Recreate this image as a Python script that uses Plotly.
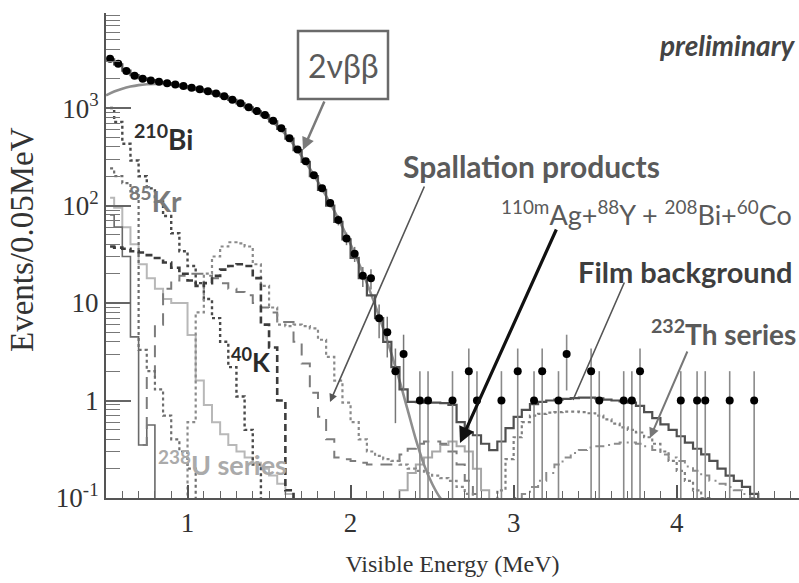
import plotly.graph_objects as go
import math

# ---------------- data ----------------
data_e = [0.525, 0.575, 0.625, 0.675, 0.725, 0.775, 0.825, 0.875, 0.925, 0.975,
          1.025, 1.075, 1.125, 1.175, 1.225, 1.275, 1.325, 1.375, 1.425, 1.475,
          1.525, 1.575, 1.625, 1.675, 1.725, 1.775, 1.825, 1.875, 1.925, 1.975,
          2.025, 2.075, 2.125, 2.175, 2.225, 2.275, 2.325]
data_v = [3200, 2850, 2400, 2150, 2000, 1920, 1860, 1800, 1740, 1680,
          1620, 1560, 1490, 1410, 1320, 1220, 1120, 1020, 930, 850,
          740, 620, 490, 375, 285, 205, 150, 106, 71, 46,
          32, 19, 18, 7, 5, 2, 3]

sparse_e = [2.425, 2.475, 2.625, 2.725, 2.775, 2.925, 3.025, 3.125, 3.175, 3.275, 3.325,
            3.475, 3.525, 3.675, 3.725, 3.775, 4.025, 4.125, 4.175, 4.325, 4.475]
sparse_v = [1, 1, 1, 2, 1, 1, 2, 1, 2, 1, 3, 2, 1, 1, 1, 2, 1, 1, 1, 1, 1]

total_e = [0.525, 0.575, 0.625, 0.675, 0.725, 0.775, 0.825, 0.875, 0.925, 0.975,
           1.025, 1.075, 1.125, 1.175, 1.225, 1.275, 1.325, 1.375, 1.425, 1.475,
           1.525, 1.575, 1.625, 1.675, 1.725, 1.775, 1.825, 1.875, 1.925, 1.975,
           2.025, 2.075, 2.125, 2.175, 2.225, 2.275, 2.325, 2.375, 2.425, 2.475,
           2.525, 2.575, 2.625, 2.675, 2.725, 2.775, 2.825, 2.875, 2.925, 2.975,
           3.025, 3.075, 3.125, 3.175, 3.225, 3.275, 3.325, 3.375, 3.425, 3.475,
           3.525, 3.575, 3.625, 3.675, 3.725, 3.775, 3.825, 3.875, 3.925, 3.975,
           4.025, 4.075, 4.125, 4.175, 4.225, 4.275, 4.325, 4.375, 4.425, 4.475, 4.525]
total_v = [3150, 2800, 2420, 2180, 2020, 1930, 1860, 1800, 1740, 1680,
           1620, 1555, 1485, 1405, 1315, 1215, 1115, 1015, 925, 840,
           730, 610, 485, 370, 280, 200, 145, 100, 68, 45,
           29, 18, 12, 7, 4, 2.2, 1.3, 0.97, 0.96, 0.95,
           0.95, 0.94, 0.9, 0.6, 0.47, 0.44, 0.36, 0.31, 0.38, 0.52,
           0.68, 0.8, 0.92, 0.97, 1.0, 1.02, 1.04, 1.06, 1.07, 1.07,
           1.05, 1.02, 1.0, 0.98, 0.95, 0.88, 0.76, 0.66, 0.57, 0.5,
           0.43, 0.37, 0.32, 0.28, 0.24, 0.2, 0.17, 0.15, 0.13, 0.11, 0.09]

dbb_e = [0.5, 0.55, 0.6, 0.65, 0.7, 0.75, 0.8, 0.85, 0.9, 1.0, 1.1, 1.2, 1.3, 1.4,
         1.5, 1.6, 1.7, 1.8, 1.9, 2.0, 2.1, 2.2, 2.3, 2.35, 2.4, 2.45, 2.5, 2.55, 2.6]
dbb_v = [1350, 1480, 1580, 1660, 1720, 1755, 1770, 1765, 1740, 1600, 1480, 1330, 1150, 950,
         770, 540, 320, 175, 88, 40, 16, 5.5, 1.6, 0.8, 0.4, 0.22, 0.14, 0.1, 0.08]

bi210_e = [0.525, 0.575, 0.625, 0.675, 0.725, 0.775, 0.825, 0.875, 0.925, 0.975,
           1.025, 1.075, 1.125, 1.175, 1.225, 1.275, 1.325, 1.375, 1.425, 1.475]
bi210_v = [1000, 720, 430, 290, 200, 150, 110, 78, 52, 34,
           24, 16, 11, 7, 4, 2.2, 1.1, 0.5, 0.22, 0.08]

kr85_e = [0.525, 0.575, 0.625, 0.675, 0.725, 0.775, 0.825, 0.875, 0.925, 0.975, 1.025, 1.075]
kr85_v = [240, 200, 170, 140, 3.3, 2.0, 1.3, 0.7, 0.4, 0.3, 0.2, 0.08]

k40_e = [0.525, 0.575, 0.625, 0.675, 0.725, 0.775, 0.825, 0.875, 0.925, 0.975,
         1.025, 1.075, 1.125, 1.175, 1.225, 1.275, 1.325, 1.375, 1.425, 1.475,
         1.525, 1.575, 1.625, 1.675]
k40_v = [38, 37, 36, 34, 33, 31, 29, 26, 23, 20,
         17, 15, 16, 19, 22, 24, 25, 24, 18, 6,
         3.5, 1.0, 0.12, 0.05]

c11_e = [0.975, 1.025, 1.075, 1.125, 1.175, 1.225, 1.275, 1.325, 1.375, 1.425,
         1.475, 1.525, 1.575, 1.625, 1.675, 1.725, 1.775, 1.825, 1.875, 1.925,
         1.975, 2.025, 2.075, 2.125, 2.175, 2.225, 2.275, 2.325, 2.375, 2.425,
         2.475, 2.525, 2.575, 2.625, 2.675, 2.725, 2.775]
c11_v = [0.05, 0.6, 8, 20, 30, 38, 42, 41, 38, 25,
         15, 9, 6, 5.8, 6, 5.8, 5.5, 4.2, 2.8, 1.6,
         0.95, 0.6, 0.4, 0.3, 0.27, 0.25, 0.24, 0.22, 0.2, 0.19,
         0.18, 0.17, 0.16, 0.15, 0.13, 0.11, 0.08]

spall_e = [0.725, 0.775, 0.825, 0.875, 0.925, 0.975, 1.025, 1.075, 1.125, 1.175,
           1.225, 1.275, 1.325, 1.375, 1.425, 1.475, 1.525, 1.575, 1.625, 1.675,
           1.725, 1.775, 1.825, 1.875, 1.925, 1.975, 2.025, 2.075, 2.125, 2.175,
           2.225, 2.275, 2.325, 2.375, 2.425, 2.475, 2.525, 2.575, 2.625, 2.675,
           2.725, 2.775, 2.825]
spall_v = [0.35, 1.7, 6, 14, 17, 19, 20, 20, 19, 18,
           16, 14, 13, 12, 10, 9, 8, 6.4, 6.4, 4,
           2.4, 1.2, 0.68, 0.4, 0.26, 0.25, 0.24, 0.23, 0.22, 0.22,
           0.22, 0.24, 0.28, 0.32, 0.36, 0.38, 0.38, 0.36, 0.3, 0.22,
           0.15, 0.11, 0.08]

u238_e = [0.525, 0.575, 0.625, 0.675, 0.725, 0.775, 0.825, 0.875, 0.925, 0.975,
          1.025, 1.075, 1.125, 1.175, 1.225, 1.275, 1.325, 1.375, 1.425, 1.475,
          1.525, 1.575, 1.625, 1.675]
u238_v = [120, 95, 60, 40, 25, 18, 14, 11, 10, 10,
          4.7, 1.6, 0.9, 0.6, 0.45, 0.35, 0.3, 0.26, 0.23, 0.2,
          0.17, 0.14, 0.11, 0.08]

misc_e = [0.525, 0.575, 0.625, 0.675, 0.725, 0.775, 0.825]
misc_v = [80, 60, 30, 4.5, 0.35, 0.56, 0.05]

ag_e = [2.275, 2.325, 2.375, 2.425, 2.475, 2.525, 2.575, 2.625, 2.675, 2.725, 2.775, 2.825, 2.875]
ag_v = [0.05, 0.12, 0.18, 0.22, 0.26, 0.3, 0.35, 0.38, 0.34, 0.3, 0.2, 0.12, 0.08]

film_e = [2.875, 2.925, 2.975, 3.025, 3.075, 3.125, 3.175, 3.225, 3.275, 3.325,
          3.375, 3.425, 3.475, 3.525, 3.575, 3.625, 3.675, 3.725, 3.775, 3.825,
          3.875, 3.925, 3.975, 4.025, 4.075, 4.125, 4.175, 4.225]
film_v = [0.06, 0.12, 0.25, 0.42, 0.6, 0.7, 0.73, 0.75, 0.76, 0.77,
          0.77, 0.76, 0.74, 0.7, 0.64, 0.58, 0.53, 0.5, 0.47, 0.42,
          0.36, 0.3, 0.24, 0.19, 0.15, 0.12, 0.1, 0.08]

th_e = [2.975, 3.025, 3.075, 3.125, 3.175, 3.225, 3.275, 3.325, 3.375, 3.425,
        3.475, 3.525, 3.575, 3.625, 3.675, 3.725, 3.775, 3.825, 3.875, 3.925,
        3.975, 4.025, 4.075, 4.125, 4.175, 4.225, 4.275, 4.325, 4.375, 4.425,
        4.475, 4.525]
th_v = [0.08, 0.1, 0.11, 0.13, 0.15, 0.18, 0.22, 0.26, 0.29, 0.31,
        0.33, 0.34, 0.35, 0.36, 0.37, 0.37, 0.36, 0.34, 0.31, 0.28,
        0.26, 0.24, 0.21, 0.19, 0.17, 0.15, 0.14, 0.13, 0.12, 0.11,
        0.1, 0.09]

y_tickvals = [0.1, 1, 10, 100, 1000]
y_ticktext = ["10<sup>-1</sup>", "1", "10", "10<sup>2</sup>", "10<sup>3</sup>"]
x_tickvals = [1, 2, 3, 4]

# ---------------- figure ----------------
L, T, B, W, H = 106, 13, 498, 693, 485
def px(x):
    return (x - L) / W
def py(y):
    return (B - y) / H

fig = go.Figure()

def comp(e, v, color, dash, width, shape="hvh"):
    fig.add_trace(go.Scatter(x=e, y=v, mode="lines", line=dict(color=color, dash=dash, width=width, shape=shape),
                             hoverinfo="skip", showlegend=False))

comp(u238_e, u238_v, "#b8b8b8", "solid", 2)
comp(misc_e, misc_v, "#6a6a6a", "solid", 1.6)
comp(ag_e, ag_v, "#a8a8a8", "solid", 2)
comp(spall_e, spall_v, "#7c7c7c", "12px,8px", 2)
comp(kr85_e, kr85_v, "#6e6e6e", "dot", 2.2)
comp(bi210_e, bi210_v, "#4a4a4a", "dot", 2.4)
comp(c11_e, c11_v, "#8a8a8a", "dot", 2.2)
comp(k40_e, k40_v, "#3c3c3c", "7px,4px", 2.6)
comp(film_e, film_v, "#808080", "dot", 2.2)
comp(th_e, th_v, "#8c8c8c", "9px,5px,2px,5px", 2)
comp(dbb_e, dbb_v, "#8e8e8e", "solid", 2.6, "spline")
comp(total_e, total_v, "#505050", "solid", 2.2)

# error bars
dense_err = [math.sqrt(v) for v in data_v]
sp_up = [math.sqrt(v) for v in sparse_v]
sp_dn = [v * 0.97 if v < 3 else math.sqrt(v) for v in sparse_v]

fig.add_trace(go.Scatter(x=data_e, y=data_v, mode="markers",
                         marker=dict(color="black", size=8),
                         error_y=dict(type="data", array=dense_err, color="#777", thickness=1.5, width=0),
                         showlegend=False, hoverinfo="skip"))
fig.add_trace(go.Scatter(x=sparse_e, y=sparse_v, mode="markers",
                         marker=dict(color="black", size=8),
                         error_y=dict(type="data", symmetric=False, array=sp_up, arrayminus=sp_dn,
                                      color="#8a8a8a", thickness=1.6, width=0),
                         showlegend=False, hoverinfo="skip"))

minor_y = []
for d in [0.1, 1, 10, 100, 1000]:
    for k in range(2, 10):
        minor_y.append(d * k)

serif = "Liberation Serif"
sans = "Lato"

fig.update_layout(
    width=799, height=583,
    margin=dict(l=L, r=799 - L - W, t=T, b=583 - B),
    paper_bgcolor="white", plot_bgcolor="white",
    showlegend=False,
    xaxis=dict(range=[0.5, 4.75], showgrid=False, zeroline=False,
               showline=True, linecolor="#555", linewidth=2,
               ticks="inside", ticklen=13, tickwidth=1.5, tickcolor="#555",
               tickvals=x_tickvals, ticktext=[str(v) for v in x_tickvals],
               tickfont=dict(family=serif, size=27, color="#333"),
               minor=dict(ticks="inside", ticklen=7, tickwidth=1.3, tickcolor="#666", dtick=0.1, tick0=0.5),
               title=dict(text="Visible Energy (MeV)", font=dict(family=serif, size=24, color="#333"), standoff=18)),
    yaxis=dict(type="log", range=[-1, 3.975], showgrid=False, zeroline=False,
               showline=True, linecolor="#555", linewidth=2,
               ticks="inside", ticklen=25, tickwidth=1.5, tickcolor="#666",
               tickvals=y_tickvals, ticktext=y_ticktext,
               tickfont=dict(family=serif, size=27, color="#333"),
               minor=dict(ticks="inside", ticklen=14, tickwidth=1.3, tickcolor="#777", tickvals=minor_y)),
)

# y-axis title as rotated text
fig.add_annotation(x=px(22), y=py(240), xref="paper", yref="paper", text="Events/0.05MeV",
                   textangle=-90, showarrow=False, xanchor="center", yanchor="middle",
                   font=dict(family=serif, size=33, color="#333"))

def label(x, y, text, size, color, bold=True, italic=False, xanchor="left"):
    t = text
    if italic:
        t = "<i>" + t + "</i>"
    if bold:
        t = "<b>" + t + "</b>"
    fig.add_annotation(x=px(x), y=py(y), xref="paper", yref="paper", text=t, showarrow=False,
                       xanchor=xanchor, yanchor="middle",
                       font=dict(family=sans, size=size, color=color))

def arrow(x0, y0, x1, y1, color, width, head=2):
    fig.add_annotation(x=px(x1), y=py(y1), xref="paper", yref="paper", text="",
                       showarrow=True, ax=x0 - x1, ay=y0 - y1, axref="pixel", ayref="pixel",
                       arrowhead=head, arrowsize=1, arrowwidth=width, arrowcolor=color)

# 2vbb box
fig.add_shape(type="rect", xref="paper", yref="paper", x0=px(298), x1=px(388), y0=py(31), y1=py(99),
              line=dict(color="#6a6a6a", width=2.5), fillcolor="white")
label(343, 66, "2νββ", 32, "#5a5a5a", bold=False, xanchor="center")
arrow(325, 100, 303, 150, "#7a7a7a", 2.5)

label(798, 45, "preliminary", 28, "#444", bold=True, italic=True, xanchor="right")
label(132, 137, "<sup>210</sup>Bi", 28, "#2e2e2e")
label(127, 200, "<sup>85</sup>Kr", 28, "#7a7a7a")
label(401, 166, "Spallation products", 30, "#5a5a5a")
arrow(425, 185, 330, 402, "#555", 1.6)
label(499, 213, "<sup>110m</sup>Ag+<sup>88</sup>Y + <sup>208</sup>Bi+<sup>60</sup>Co", 27, "#5a5a5a", bold=False)
arrow(557, 228, 460, 443, "#111", 3.2)
label(576, 271, "Film background", 29, "#3e3e3e")
arrow(625, 281, 573, 400, "#555", 1.6, head=0)
label(649, 332, "<sup>232</sup>Th series", 28, "#5a5a5a")
arrow(688, 350, 650, 438, "#777", 2)
label(229, 360, "<sup>40</sup>K", 26, "#2a2a2a")
label(156, 463, "<sup>238</sup>U series", 27, "#aaaaaa")

fig.write_html("out.html")
